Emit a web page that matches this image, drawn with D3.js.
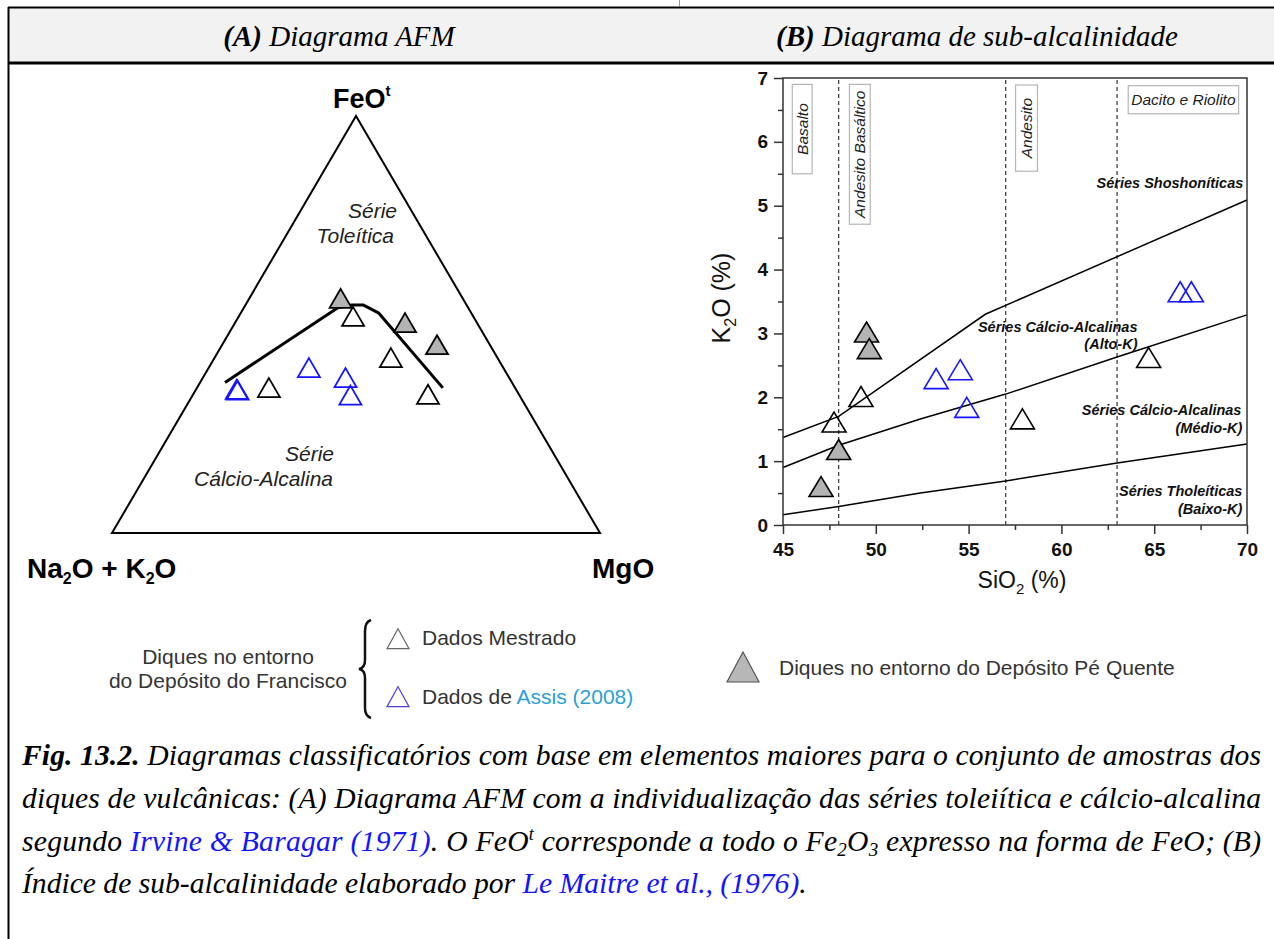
<!DOCTYPE html>
<html>
<head>
<meta charset="utf-8">
<script src="https://cdn.jsdelivr.net/npm/d3@7"></script>
<style>
body { margin: 0; background: #fff; }
svg { display: block; }
</style>
</head>
<body>
<div id="chart"></div>
<script>
// ---- AFM data (A = Na2O+K2O, F = FeOt, M = MgO, in %) ----
var afmCurve = [[58.8, 36.1, 5.1], [26.6, 54.1, 19.3], [23.5, 54.7, 21.8],
                [21.2, 54.7, 24.1], [19.0, 52.8, 28.2], [14.8, 34.8, 50.4]];
var afmPeQuente = [[25.4, 55.5, 19.1], [15.1, 49.7, 35.2], [11.2, 44.4, 44.4]];
var afmMestrado = [[25.0, 51.2, 23.8], [50.8, 34.1, 15.1], [22.2, 41.3, 36.5], [19.0, 32.5, 48.5]];
var afmAssis = [[57.6, 33.7, 8.7], [57.5, 33.5, 9.0], [40.2, 38.9, 20.9], [33.9, 36.5, 29.6], [35.0, 32.3, 32.7]];

// ---- K2O vs SiO2 data ----
var sioTicks = [45, 50, 55, 60, 65, 70];
var sioMinor = [47.5, 52.5, 57.5, 62.5, 67.5];
var k2oTicks = [0, 1, 2, 3, 4, 5, 6, 7];
var k2oMinor = [0.5, 1.5, 2.5, 3.5, 4.5, 5.5, 6.5];
var fieldBounds = [48, 57, 63];
var rockNames = ['Basalto', 'Andesito Basáltico', 'Andesito', 'Dacito e Riolito'];
var lineLowK = [[45, 0.16], [48, 0.29], [52.4, 0.50], [57, 0.69], [63, 0.97], [70, 1.27]];
var lineHighK = [[45, 0.90], [48, 1.25], [52.4, 1.66], [57, 2.05], [63, 2.63], [70, 3.29]];
var lineShosh = [[45, 1.37], [48, 1.70], [55.9, 3.30], [70, 5.09]];
var k2oPeQuente = [[47.05, 0.55], [48.0, 1.13], [49.5, 2.97], [49.65, 2.71]];
var k2oMestrado = [[47.75, 1.56], [49.2, 1.96], [57.9, 1.61], [64.7, 2.57]];
var k2oAssis = [[53.25, 2.24], [54.55, 2.38], [54.9, 1.79], [66.4, 3.60], [67.0, 3.60]];

var sans = '"Liberation Sans", Arial, sans-serif';
var serif = '"Liberation Serif", "Times New Roman", serif';
var grayFill = '#b3b3b3';
var blue = '#1414ff';

window.onload = function() {
    render();
};

function render() {
    var svg = d3.select('#chart').append('svg')
        .attr('width', 1274)
        .attr('height', 939);

    svg.append('rect').attr('width', 1274).attr('height', 939).attr('fill', '#fff');

    makeFrame(svg);
    makeAFM(svg);
    makeK2O(svg);
    makeLegend(svg);
    makeCaption(svg);
}

function triPath(w, h) {
    return 'M0,' + (-h * 2 / 3) + 'L' + (w / 2) + ',' + (h / 3) + 'L' + (-w / 2) + ',' + (h / 3) + 'Z';
}

function makeFrame(svg) {
    // header band
    svg.append('rect')
        .attr('x', 8).attr('y', 7).attr('width', 1266).attr('height', 56)
        .attr('fill', '#f2f2f2');
    svg.append('line').attr('x1', 8).attr('x2', 1274).attr('y1', 7.5).attr('y2', 7.5)
        .attr('stroke', '#000').attr('stroke-width', 2);
    svg.append('line').attr('x1', 8).attr('x2', 1274).attr('y1', 63).attr('y2', 63)
        .attr('stroke', '#000').attr('stroke-width', 3);
    svg.append('line').attr('x1', 8.5).attr('x2', 8.5).attr('y1', 7).attr('y2', 939)
        .attr('stroke', '#000').attr('stroke-width', 2);
    svg.append('line').attr('x1', 679.5).attr('x2', 679.5).attr('y1', 0).attr('y2', 6)
        .attr('stroke', '#999').attr('stroke-width', 1);

    var titles = [['(A)', ' Diagrama AFM', 339], ['(B)', ' Diagrama de sub-alcalinidade', 977]];
    titles.forEach(function(t) {
        var txt = svg.append('text')
            .attr('x', t[2]).attr('y', 46)
            .attr('text-anchor', 'middle')
            .style('font-family', serif)
            .style('font-size', '29px')
            .style('font-style', 'italic');
        txt.append('tspan').style('font-weight', 'bold').text(t[0]);
        txt.append('tspan').text(t[1]);
    });
}

function makeAFM(svg) {
    // ternary projection through two linear scales
    var tx = d3.scaleLinear().domain([0, 1]).range([112, 600]);
    var ty = d3.scaleLinear().domain([0, 1]).range([533, 116]);
    function proj(d) {
        var s = d[0] + d[1] + d[2];
        var f = d[1] / s, m = d[2] / s;
        return [tx(m + f / 2), ty(f)];
    }

    var g = svg.append('g');
    var corners = [[100, 0, 0], [0, 100, 0], [0, 0, 100]].map(proj);
    g.append('path')
        .attr('d', d3.line()(corners) + 'Z')
        .attr('fill', 'none')
        .attr('stroke', '#000')
        .attr('stroke-width', 2);

    g.append('path')
        .attr('d', d3.line()(afmCurve.map(proj)))
        .attr('fill', 'none')
        .attr('stroke', '#000')
        .attr('stroke-width', 3)
        .attr('stroke-linejoin', 'round');

    var series = [[afmMestrado, 'none', '#000'], [afmAssis, 'none', blue], [afmPeQuente, grayFill, '#000']];
    series.forEach(function(s) {
        g.selectAll(null).data(s[0]).enter().append('path')
            .attr('transform', function(d) { var p = proj(d); return 'translate(' + p[0] + ',' + p[1] + ')'; })
            .attr('d', triPath(22, 19))
            .attr('fill', s[1] === 'none' ? 'none' : s[1])
            .attr('stroke', s[2])
            .attr('stroke-width', 1.8);
    });

    // vertex labels
    var fe = g.append('text').attr('x', 333).attr('y', 108)
        .style('font-family', sans).style('font-weight', 'bold').style('font-size', '27px');
    fe.append('tspan').text('FeO');
    fe.append('tspan').attr('dy', -12).style('font-size', '15px').text('t');

    var na = g.append('text').attr('x', 27).attr('y', 578)
        .style('font-family', sans).style('font-weight', 'bold').style('font-size', '28px');
    na.append('tspan').text('Na');
    na.append('tspan').attr('dy', 6).style('font-size', '16px').text('2');
    na.append('tspan').attr('dy', -6).text('O + K');
    na.append('tspan').attr('dy', 6).style('font-size', '16px').text('2');
    na.append('tspan').attr('dy', -6).text('O');

    g.append('text').attr('x', 592).attr('y', 578)
        .style('font-family', sans).style('font-weight', 'bold').style('font-size', '28px')
        .text('MgO');

    var series_labels = [['Série', 397, 218], ['Toleítica', 394, 243], ['Série', 334, 461], ['Cálcio-Alcalina', 333, 486]];
    series_labels.forEach(function(l) {
        g.append('text')
            .attr('x', l[1]).attr('y', l[2])
            .attr('text-anchor', 'end')
            .style('font-family', sans).style('font-style', 'italic').style('font-size', '21px')
            .style('fill', '#222')
            .text(l[0]);
    });
}

function makeK2O(svg) {
    var x = d3.scaleLinear().domain([45, 70]).range([783, 1247]);
    var y = d3.scaleLinear().domain([0, 7]).range([525, 78]);
    var g = svg.append('g');

    // dashed field boundaries
    g.selectAll(null).data(fieldBounds).enter().append('line')
        .attr('x1', function(d) { return x(d); }).attr('x2', function(d) { return x(d); })
        .attr('y1', y(0)).attr('y2', y(7))
        .attr('stroke', '#333').attr('stroke-width', 1.2).attr('stroke-dasharray', '4,3');

    // rock-name boxes [x0, x1, y0, y1, rotated]
    var boxes = [[45.5, 46.57, 6.9, 5.5, true], [48.58, 49.7, 6.9, 4.71, true],
                 [57.53, 58.71, 6.89, 5.54, true], [63.6, 69.55, 6.88, 6.44, false]];
    boxes.forEach(function(b, i) {
        g.append('rect')
            .attr('x', x(b[0])).attr('y', y(b[2]))
            .attr('width', x(b[1]) - x(b[0])).attr('height', y(b[3]) - y(b[2]))
            .attr('fill', '#fff').attr('stroke', '#b5b5b5').attr('stroke-width', 1.2);
        var cx = (x(b[0]) + x(b[1])) / 2, cy = (y(b[2]) + y(b[3])) / 2;
        g.append('text')
            .attr('transform', 'translate(' + cx + ',' + cy + ')' + (b[4] ? ' rotate(-90)' : ''))
            .attr('text-anchor', 'middle').attr('dy', '0.35em')
            .style('font-family', sans).style('font-style', 'italic').style('font-size', '15.5px')
            .style('fill', '#222')
            .text(rockNames[i]);
    });

    // boundary lines
    var line = d3.line().x(function(d) { return x(d[0]); }).y(function(d) { return y(d[1]); });
    [lineLowK, lineHighK, lineShosh].forEach(function(l) {
        g.append('path').attr('d', line(l))
            .attr('fill', 'none').attr('stroke', '#000').attr('stroke-width', 1.5);
    });

    // series labels
    var labels = [['Séries Shoshoníticas', 69.8, 5.28], ['Séries Cálcio-Alcalinas', 64.1, 3.03],
                  ['(Alto-K)', 64.1, 2.75], ['Séries Cálcio-Alcalinas', 69.7, 1.73],
                  ['(Médio-K)', 69.75, 1.44], ['Séries Tholeíticas', 69.75, 0.46], ['(Baixo-K)', 69.75, 0.18]];
    labels.forEach(function(l) {
        g.append('text')
            .attr('x', x(l[1])).attr('y', y(l[2]))
            .attr('text-anchor', 'end')
            .style('font-family', sans).style('font-style', 'italic').style('font-weight', 'bold')
            .style('font-size', '14.5px').style('fill', '#111')
            .text(l[0]);
    });

    // frame
    g.append('rect')
        .attr('x', x(45)).attr('y', y(7))
        .attr('width', x(70) - x(45)).attr('height', y(0) - y(7))
        .attr('fill', 'none').attr('stroke', '#333').attr('stroke-width', 1.5);

    // axes
    g.append('g').attr('transform', 'translate(' + x(45) + ',0)')
        .call(d3.axisLeft(y).tickValues(k2oTicks).tickSize(9).tickPadding(6).tickFormat(d3.format('d')));
    g.append('g').attr('transform', 'translate(' + x(45) + ',0)')
        .call(d3.axisLeft(y).tickValues(k2oMinor).tickSize(5).tickFormat(''));
    g.append('g').attr('transform', 'translate(0,' + y(0) + ')')
        .call(d3.axisBottom(x).tickValues(sioTicks).tickSize(9).tickPadding(9).tickFormat(d3.format('d')));
    g.append('g').attr('transform', 'translate(0,' + y(0) + ')')
        .call(d3.axisBottom(x).tickValues(sioMinor).tickSize(5).tickFormat(''));
    g.selectAll('.domain').remove();
    g.selectAll('.tick line').attr('stroke', '#333').attr('stroke-width', 1.5);
    g.selectAll('.tick text')
        .style('font-family', sans).style('font-weight', 'bold').style('font-size', '19px')
        .attr('fill', '#111');

    // axis titles
    var xt = g.append('text').attr('x', 1022).attr('y', 588).attr('text-anchor', 'middle')
        .style('font-family', sans).style('font-size', '23px').style('fill', '#111');
    xt.append('tspan').text('SiO');
    xt.append('tspan').attr('dy', 6).style('font-size', '15px').text('2');
    xt.append('tspan').attr('dy', -6).text(' (%)');

    var yt = g.append('text').attr('transform', 'translate(730,298) rotate(-90)').attr('text-anchor', 'middle')
        .style('font-family', sans).style('font-size', '25px').style('fill', '#111');
    yt.append('tspan').text('K');
    yt.append('tspan').attr('dy', 6).style('font-size', '16px').text('2');
    yt.append('tspan').attr('dy', -6).text('O (%)');

    // points
    var series = [[k2oMestrado, 'none', '#000'], [k2oAssis, 'none', blue], [k2oPeQuente, grayFill, '#000']];
    series.forEach(function(s) {
        g.selectAll(null).data(s[0]).enter().append('path')
            .attr('transform', function(d) { return 'translate(' + x(d[0]) + ',' + y(d[1]) + ')'; })
            .attr('d', triPath(24, 20))
            .attr('fill', s[1] === 'none' ? 'none' : s[1])
            .attr('stroke', s[2])
            .attr('stroke-width', 1.6);
    });
}

function makeLegend(svg) {
    var g = svg.append('g')
        .style('font-family', sans).style('font-size', '21px').style('fill', '#333');

    g.append('text').attr('x', 228).attr('y', 664).attr('text-anchor', 'middle').text('Diques no entorno');
    g.append('text').attr('x', 228).attr('y', 688).attr('text-anchor', 'middle').text('do Depósito do Francisco');

    g.append('path')
        .attr('d', 'M371,620 Q365,622 365,631 L365,660 Q365,668 359,669 Q365,670 365,678 L365,708 Q365,716 371,718')
        .attr('fill', 'none').attr('stroke', '#111').attr('stroke-width', 2.5);

    g.append('path').attr('transform', 'translate(398,642)').attr('d', triPath(22, 20))
        .attr('fill', 'none').attr('stroke', '#666').attr('stroke-width', 1.2);
    g.append('text').attr('x', 422).attr('y', 645).text('Dados Mestrado');

    g.append('path').attr('transform', 'translate(398,700)').attr('d', triPath(22, 20))
        .attr('fill', 'none').attr('stroke', '#4b3fd6').attr('stroke-width', 1.2);
    var t = g.append('text').attr('x', 422).attr('y', 704);
    t.append('tspan').text('Dados de ');
    t.append('tspan').style('fill', '#2aa0d8').text('Assis (2008)');

    g.append('path').attr('transform', 'translate(743,672)').attr('d', triPath(32, 30))
        .attr('fill', '#b7b7b7').attr('stroke', '#555').attr('stroke-width', 1.2);
    g.append('text').attr('x', 779).attr('y', 675).text('Diques no entorno do Depósito Pé Quente');
}

function makeCaption(svg) {
    var g = svg.append('g')
        .style('font-family', serif).style('font-style', 'italic').style('font-size', '29.6px')
        .style('fill', '#000');

    var l1 = g.append('text').attr('x', 22).attr('y', 765)
        .attr('textLength', 1239).attr('lengthAdjust', 'spacing');
    l1.append('tspan').style('font-weight', 'bold').text('Fig. 13.2.');
    l1.append('tspan').text(' Diagramas classificatórios com base em elementos maiores para o conjunto de amostras dos');

    g.append('text').attr('x', 22).attr('y', 808)
        .attr('textLength', 1239).attr('lengthAdjust', 'spacing')
        .text('diques de vulcânicas: (A) Diagrama AFM com a individualização das séries toleiítica e cálcio-alcalina');

    var l3 = g.append('text').attr('x', 22).attr('y', 851)
        .attr('textLength', 1239).attr('lengthAdjust', 'spacing');
    l3.append('tspan').text('segundo ');
    l3.append('tspan').style('fill', blue).text('Irvine & Baragar (1971)');
    l3.append('tspan').text('. O FeO');
    l3.append('tspan').attr('dy', -11).style('font-size', '18px').text('t');
    l3.append('tspan').attr('dy', 11).text(' corresponde a todo o Fe');
    l3.append('tspan').attr('dy', 5).style('font-size', '19px').text('2');
    l3.append('tspan').attr('dy', -5).text('O');
    l3.append('tspan').attr('dy', 5).style('font-size', '19px').text('3');
    l3.append('tspan').attr('dy', -5).text(' expresso na forma de FeO; (B)');

    var l4 = g.append('text').attr('x', 22).attr('y', 893);
    l4.append('tspan').text('Índice de sub-alcalinidade elaborado por ');
    l4.append('tspan').style('fill', blue).text('Le Maitre et al., (1976)');
    l4.append('tspan').text('.');
}
</script>
</body>
</html>
